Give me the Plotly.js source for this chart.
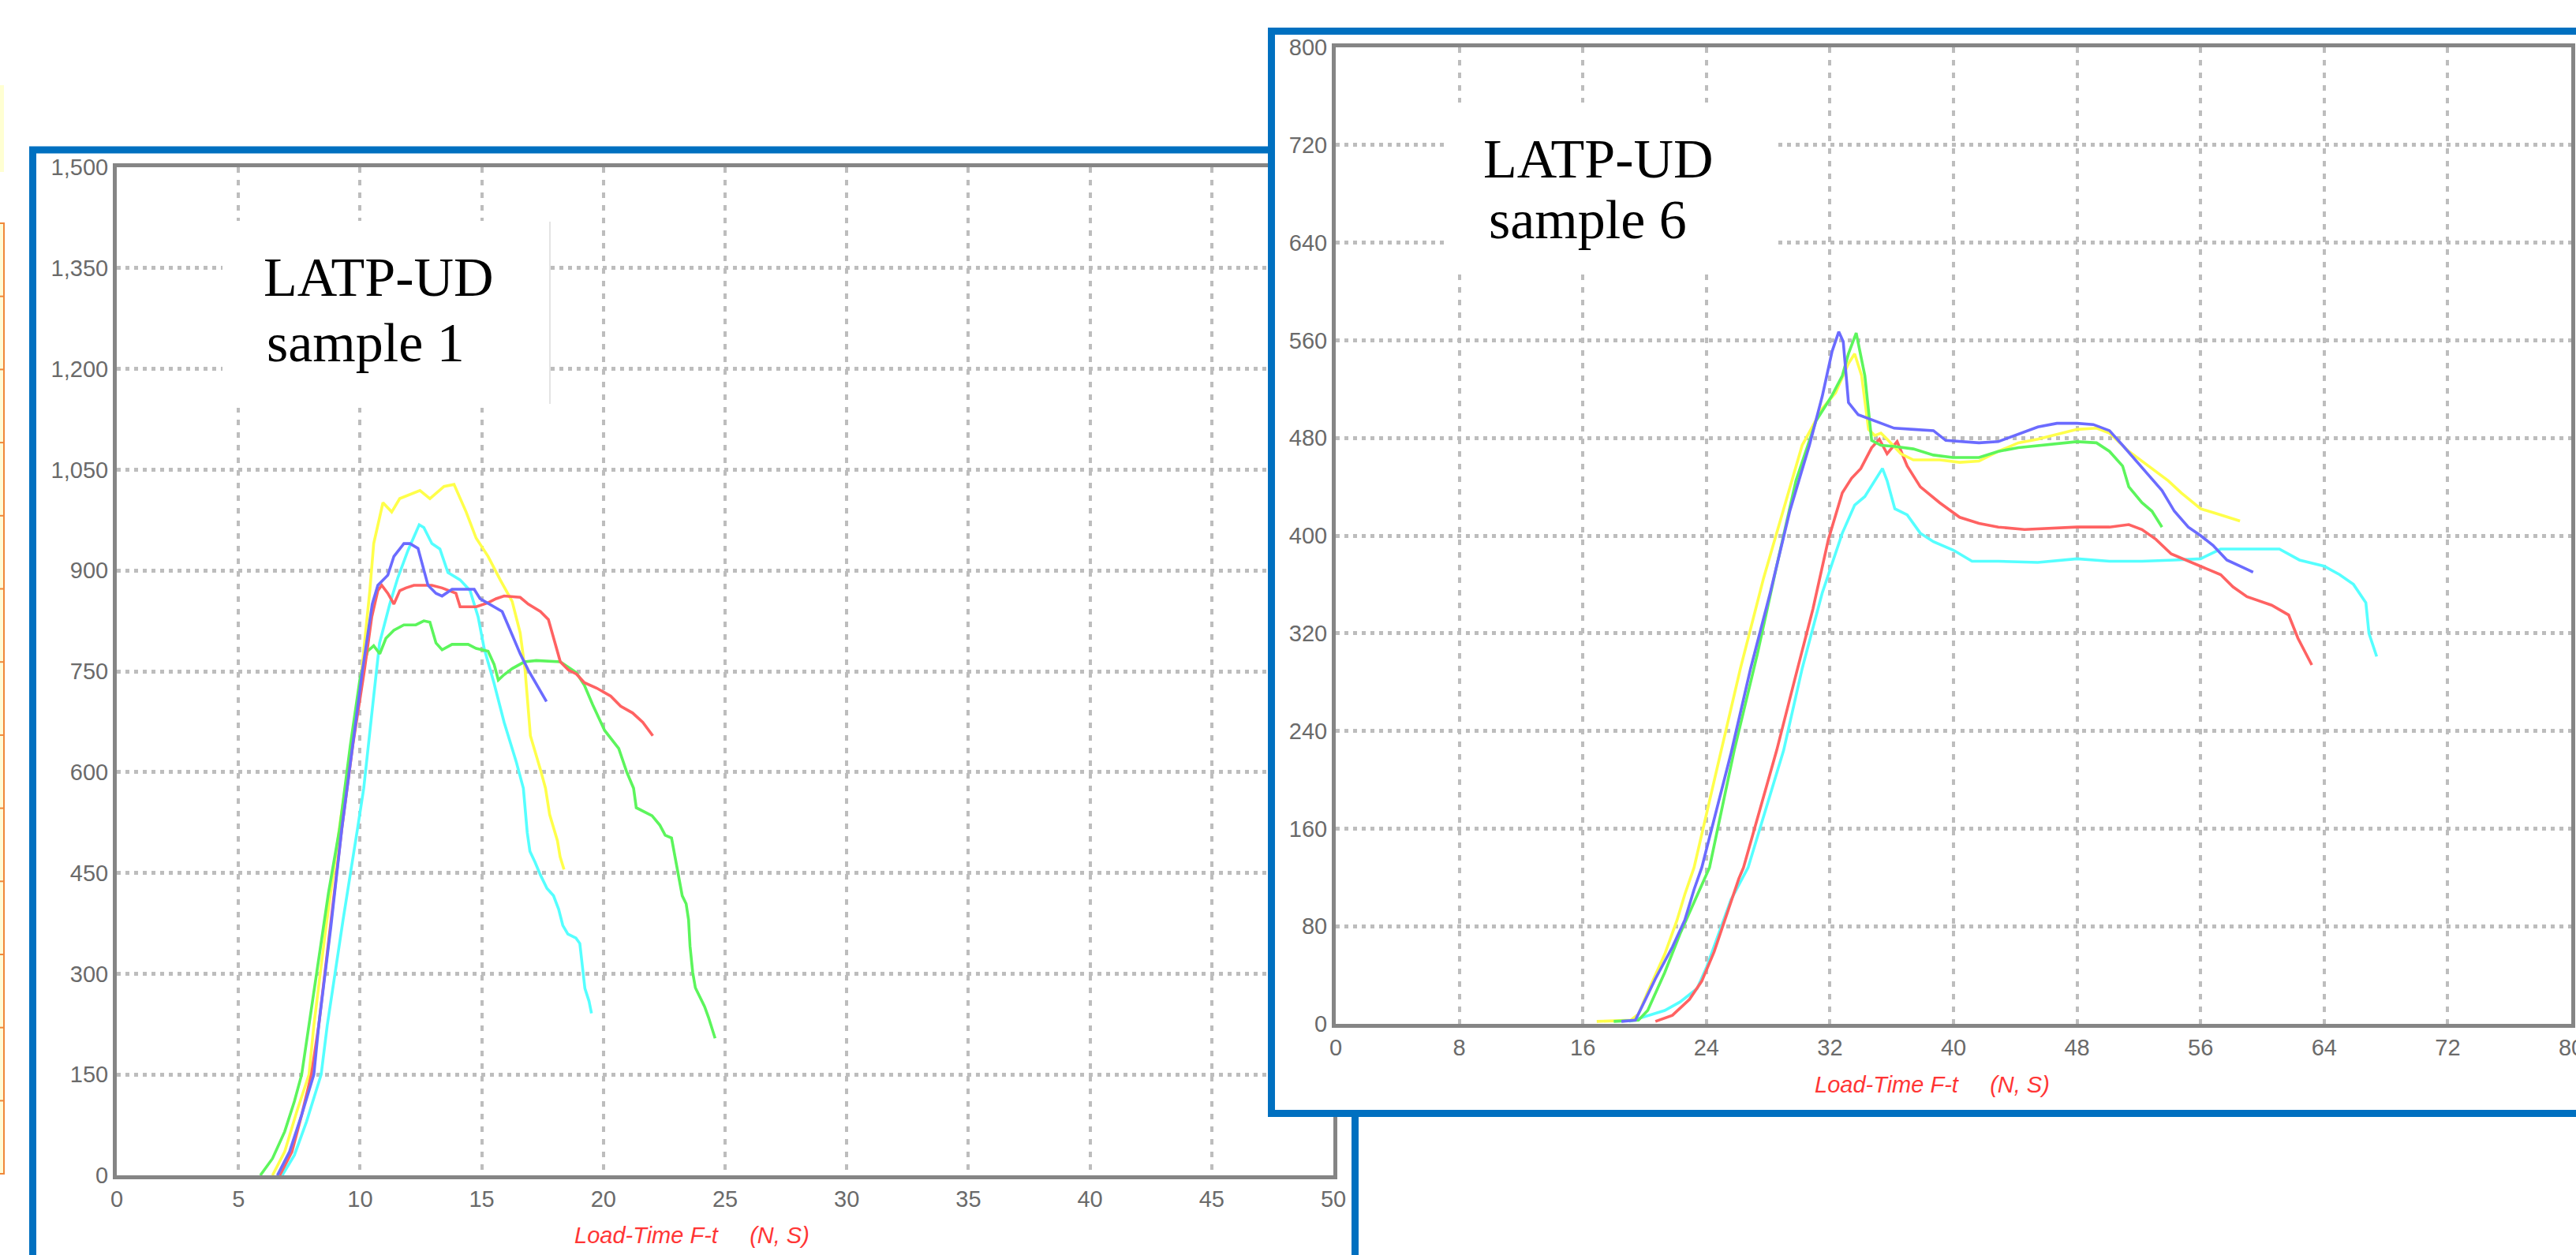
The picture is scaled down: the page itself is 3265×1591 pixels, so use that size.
<!DOCTYPE html>
<html>
<head>
<meta charset="utf-8">
<script src="https://cdn.plot.ly/plotly-3.0.1.min.js"></script>
<style>html,body{margin:0;padding:0;background:#fff;}#chart{width:3265px;height:1591px;}</style>
</head>
<body>
<div id="chart"></div>
<script>
// ---------- DATA : sample 1 (left panel), load F (N) vs time t (s) ----------
const s1YellowT = [6.4,6.9,7.4,7.9,8.1,8.6,9.2,9.79,10.07,10.4,10.56,10.94,11.30,11.63,12.46,12.87,13.45,13.86,14.36,14.77,15.26,15.76,16.25,16.58,16.78,17.0,17.41,17.62,17.79,17.95,18.11,18.22,18.38];
const s1YellowF = [0,35,95,150,223,370,530,674,752,870,940,1001,987,1007,1019,1007,1025,1028,987,948,921,886,854,807,752,654,604,576,537,517,498,474,455];

const s1CyanT = [6.8,7.3,7.8,8.4,8.65,9.3,9.9,10.15,10.56,10.8,11.22,11.55,11.96,12.43,12.62,12.95,13.28,13.61,14.11,14.52,14.85,15.1,15.5,15.92,16.42,16.71,16.87,16.98,17.19,17.41,17.68,17.95,18.16,18.33,18.54,18.87,19.03,19.14,19.24,19.41,19.51];
const s1CyanF = [0,30,80,150,223,380,517,576,713,792,850,889,929,968,964,940,932,897,886,870,831,784,733,674,615,576,510,482,466,447,427,416,396,372,359,353,345,310,278,259,241];

const s1BlueT = [6.6,7.1,7.6,8.1,8.3,8.8,9.25,9.7,10.1,10.5,10.73,11.14,11.39,11.80,12.05,12.38,12.62,12.79,13.12,13.37,13.78,14.69,14.93,15.43,15.84,16.17,16.58,16.91,17.33,17.66];
const s1BlueF = [0,35,90,150,223,370,516,640,752,850,878,893,921,940,940,933,901,878,866,862,872,872,858,848,839,811,776,752,725,705];

const s1RedT = [6.7,7.2,7.6,8.0,8.3,8.8,9.25,9.7,10.18,10.48,10.73,10.89,11.14,11.39,11.63,11.88,12.21,12.95,13.37,13.94,14.11,14.77,15.26,15.59,15.92,16.58,16.91,17.41,17.74,17.99,18.23,18.56,18.89,19.22,19.72,20.30,20.71,21.20,21.62,22.03];
const s1RedF = [0,35,90,150,223,380,516,640,752,831,870,878,866,850,870,874,878,878,874,866,846,846,852,858,862,860,850,839,827,795,764,752,746,733,725,713,698,688,674,654];

const s1GreenT = [5.9,6.4,6.9,7.3,7.6,7.9,8.3,8.7,9.16,9.6,10.0,10.31,10.56,10.81,11.06,11.39,11.80,12.29,12.62,12.87,13.12,13.37,13.78,14.44,14.77,15.26,15.51,15.68,15.92,16.25,16.75,17.24,18.23,18.56,18.89,19.22,19.55,20.05,20.63,20.96,21.24,21.35,21.67,22.0,22.32,22.54,22.8,22.9,23.0,23.13,23.24,23.4,23.5,23.56,23.67,23.78,23.94,24.16,24.32,24.48,24.59];
const s1GreenF = [0,25,65,110,150,223,320,420,516,640,740,780,788,776,799,811,819,819,825,823,792,782,790,790,784,780,760,737,745,754,764,766,764,756,748,729,701,662,635,600,576,547,541,535,521,506,502,482,459,435,416,404,380,341,302,279,267,251,235,216,204];

// ---------- DATA : sample 6 (right panel) ----------
const s6YellowT = [16.9,19.1,19.6,20.2,21.3,22.1,22.6,23.2,24.96,26.2,27.7,28.98,30.2,31.5,32.36,33.2,33.6,34.05,34.5,34.9,35.3,35.7,36.6,37.4,39.1,40.4,41.65,42.9,44.2,45.46,46.7,48.0,49.26,50.1,51.35,52.6,53.9,54.75,56.0,57.3,58.55];
const s6YellowF = [2,3,8,26,57,85,106,128,224,291,365,420,474,504,517,541,549,531,487,482,484,479,467,462,462,460,461,469,476,479,483,487,488,484,469,457,445,435,422,417,412];

const s6BlueT = [18.5,19.4,19.9,20.7,21.8,22.6,23.2,23.7,25.6,26.86,28.13,29.4,30.67,31.5,32.14,32.57,32.86,33.2,33.83,34.9,36.16,37.43,38.7,39.5,40.38,41.65,42.9,44.2,45.46,46.7,48.0,49.05,50.1,50.95,51.8,52.6,53.5,54.3,55.2,56.0,56.8,57.7,58.55,59.4];
const s6BlueF = [2,3,16,37,63,85,110,128,222,291,353,420,474,514,551,567,559,509,499,494,488,487,486,478,477,476,477,483,489,492,492,491,486,474,462,450,437,420,407,400,392,380,375,370];

const s6GreenT = [18.0,19.6,20.2,21.3,22.3,23.4,24.2,25.8,27.3,28.55,29.8,31.1,32.1,32.8,33.2,33.7,34.26,34.7,35.3,36.2,37.4,38.7,39.96,41.65,42.9,44.2,45.9,48.0,49.26,50.1,50.95,51.35,52.2,52.85,53.5];
const s6GreenF = [2,3,11,42,74,106,128,224,303,375,445,494,514,531,549,566,531,478,474,473,471,466,464,464,469,472,474,477,476,469,457,440,427,420,407];

const s6RedT = [20.7,21.8,22.9,23.7,24.5,25.3,26.1,26.4,28.55,29.8,30.9,31.9,32.8,33.4,34.0,34.7,35.2,35.7,36.35,37.0,37.85,39.1,40.4,41.65,42.9,44.6,46.3,48.0,50.1,51.35,52.2,53.1,54.1,55.2,56.4,57.3,58.1,59.0,60.6,61.7,62.3,63.2];
const s6RedF = [2,7,20,35,59,89,119,128,224,286,340,397,435,447,455,472,479,467,477,457,440,427,415,410,407,405,406,407,407,409,405,397,385,379,373,368,358,350,343,335,316,294];

const s6CyanT = [19.0,21.3,22.3,23.4,24.0,24.8,25.6,26.7,29.0,30.2,31.5,32.8,33.6,34.26,34.9,35.4,35.7,36.2,37.0,37.85,38.7,40.0,41.2,42.9,45.46,48.0,50.1,52.2,54.3,56.0,57.3,58.55,61.1,62.4,64.0,65.0,65.9,66.7,66.9,67.4];
const s6CyanF = [2,11,18,29,46,74,102,128,224,291,353,402,425,432,445,455,445,422,417,402,395,388,379,379,378,381,379,379,380,381,389,389,389,380,375,368,360,345,320,301];

// tick settings / labels
const s1XTicks = {start: 0, end: 50, step: 5};
const s1YTicks = {start: 0, end: 1500, step: 150};
const s6XTicks = {start: 0, end: 80, step: 8};
const s6YTicks = {start: 0, end: 800, step: 80};
const panelLabels = [["LATP-UD", "sample 1"], ["LATP-UD", "sample 6"]];
const xTitle = "Load-Time F-t\u00a0\u00a0\u00a0\u00a0\u00a0(N, S)";

// ---------- STYLE ----------
const W = 3265, H = 1591;
const px = v => v / W;
const py = v => 1 - v / H;
const COL = {yellow: '#FFFF4A', cyan: '#55FFFF', blue: '#6B6BFF', red: '#FF6262', green: '#5CF55C'};
const FRAME = '#0070C0';
const tickFont = {family: 'Liberation Sans, Arial, sans-serif', size: 29, color: '#6a6a6a'};

function line(x, y, color, xa, ya) {
  return {type: 'scatter', mode: 'lines', x: x, y: y, xaxis: xa, yaxis: ya,
    line: {color: color, width: 3.6}, hoverinfo: 'skip', showlegend: false};
}

const traces = [
  line(s1CyanT, s1CyanF, COL.cyan, 'x', 'y'),
  line(s1YellowT, s1YellowF, COL.yellow, 'x', 'y'),
  line(s1GreenT, s1GreenF, COL.green, 'x', 'y'),
  line(s1RedT, s1RedF, COL.red, 'x', 'y'),
  line(s1BlueT, s1BlueF, COL.blue, 'x', 'y'),
  {type: 'scatter', mode: 'lines', x: [], y: [], xaxis: 'x2', yaxis: 'y2', hoverinfo: 'skip', showlegend: false},
  line(s6CyanT, s6CyanF, COL.cyan, 'x3', 'y3'),
  line(s6RedT, s6RedF, COL.red, 'x3', 'y3'),
  line(s6YellowT, s6YellowF, COL.yellow, 'x3', 'y3'),
  line(s6GreenT, s6GreenF, COL.green, 'x3', 'y3'),
  line(s6BlueT, s6BlueF, COL.blue, 'x3', 'y3')
];

function dataAxis(domain, ticks, anchor, isY, fmt) {
  return {
    domain: domain, anchor: anchor, range: [ticks.start, ticks.end],
    tick0: ticks.start, dtick: ticks.step, tickmode: 'linear',
    showgrid: true, gridcolor: '#bdbdbd',
    gridwidth: isY ? 5 : 4, griddash: isY ? '5px,6px' : '7px,9px',
    zeroline: false, showline: true, mirror: true, linecolor: '#858585', linewidth: 5,
    ticks: '', tickfont: tickFont, tickformat: fmt || '', ticklabeloverflow: 'allow',
    fixedrange: true
  };
}

const shapes = [];
// left panel blue frame (beneath right panel)
shapes.push({type: 'rect', xref: 'paper', yref: 'paper', layer: 'below',
  x0: px(41.5), x1: px(1717.5), y0: py(190), y1: py(1640), line: {color: FRAME, width: 9}, fillcolor: 'rgba(0,0,0,0)'});
// stray neighbouring elements at far left
shapes.push({type: 'rect', xref: 'paper', yref: 'paper', layer: 'below',
  x0: px(-5), x1: px(5), y0: py(108), y1: py(218), line: {width: 0}, fillcolor: '#FFFFD2'});
shapes.push({type: 'rect', xref: 'paper', yref: 'paper', layer: 'below',
  x0: px(-5), x1: px(5), y0: py(283), y1: py(1488), line: {color: '#F0883A', width: 2}, fillcolor: '#FFFBD6'});
for (let k = 1; k <= 12; k++) {
  const yy = 283 + k * 92.7;
  shapes.push({type: 'line', xref: 'paper', yref: 'paper', layer: 'below',
    x0: px(0), x1: px(5), y0: py(yy), y1: py(yy), line: {color: '#F0883A', width: 2}});
}
// white label boxes
shapes.push({type: 'rect', xref: 'paper', yref: 'paper', layer: 'above',
  x0: px(282), x1: px(697), y0: py(280), y1: py(517), line: {width: 0}, fillcolor: '#ffffff'});
shapes.push({type: 'line', xref: 'paper', yref: 'paper', layer: 'above',
  x0: px(697), x1: px(697), y0: py(281), y1: py(512), line: {color: '#e4e4e4', width: 2}});
shapes.push({type: 'rect', xref: 'paper', yref: 'paper', layer: 'above',
  x0: px(1832), x1: px(2248), y0: py(130), y1: py(343), line: {width: 0}, fillcolor: '#ffffff'});

const serif = {family: 'Liberation Serif, Times New Roman, serif', size: 70, color: '#000000'};
const titleFont = {family: 'Liberation Sans, Arial, sans-serif', size: 29, color: '#ff3535', style: 'italic'};
function ann(text, x, top, font) {
  return {text: text, xref: 'paper', yref: 'paper', x: px(x), y: py(top), xanchor: 'left', yanchor: 'top',
    showarrow: false, font: font, borderpad: 0};
}
const annotations = [
  ann(panelLabels[0][0], 333, 312, serif),
  ann(panelLabels[0][1], 337, 395, serif),
  ann(panelLabels[1][0], 1879, 162, serif),
  ann(panelLabels[1][1], 1886, 239, serif),
  {text: xTitle, xref: 'paper', yref: 'paper', x: px(877), y: py(1566), xanchor: 'center', yanchor: 'middle',
    showarrow: false, font: titleFont},
  {text: xTitle, xref: 'paper', yref: 'paper', x: px(2449), y: py(1375), xanchor: 'center', yanchor: 'middle',
    showarrow: false, font: titleFont}
];

const layout = {
  width: W, height: H, margin: {l: 0, r: 0, t: 0, b: 0, pad: 0},
  paper_bgcolor: '#ffffff', plot_bgcolor: '#ffffff', showlegend: false,
  xaxis: dataAxis([px(148), px(1690)], s1XTicks, 'y', false),
  yaxis: dataAxis([py(1490), py(212)], s1YTicks, 'x', true, ','),
  xaxis2: {domain: [px(1616), 1], anchor: 'y2', range: [0, 1], showgrid: false, zeroline: false,
    showticklabels: false, ticks: '', showline: true, mirror: true, linecolor: FRAME, linewidth: 9, fixedrange: true},
  yaxis2: {domain: [py(1407), py(44)], anchor: 'x2', range: [0, 1], showgrid: false, zeroline: false,
    showticklabels: false, ticks: '', showline: true, mirror: true, linecolor: FRAME, linewidth: 9, fixedrange: true},
  xaxis3: dataAxis([px(1693), px(3259)], s6XTicks, 'y3', false),
  yaxis3: dataAxis([py(1298), py(60)], s6YTicks, 'x3', true),
  shapes: shapes,
  annotations: annotations
};

Plotly.newPlot('chart', traces, layout, {staticPlot: true, displayModeBar: false});
</script>
</body>
</html>
